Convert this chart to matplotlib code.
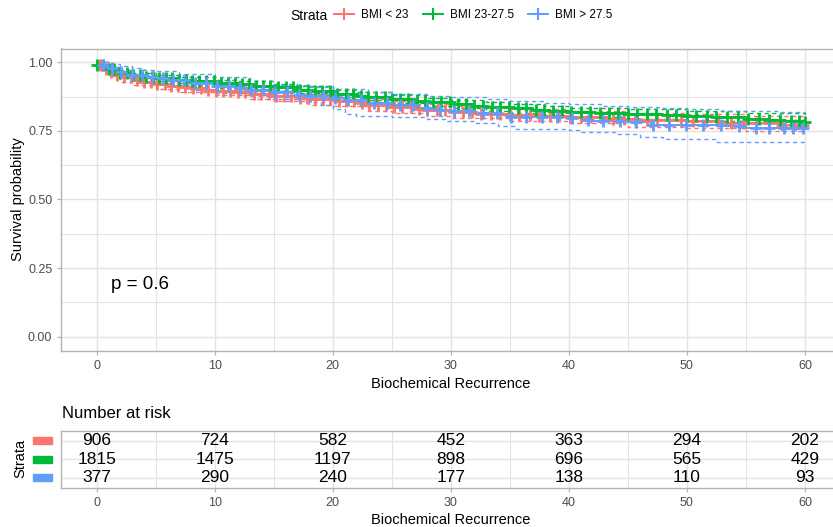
import numpy as np
import matplotlib
matplotlib.use("Agg")
import matplotlib.pyplot as plt
from matplotlib.lines import Line2D
from matplotlib.patches import Rectangle
from matplotlib.transforms import blended_transform_factory

plt.rcParams['font.family'] = ['Liberation Sans', 'DejaVu Sans']

# ---- data ----
strata = ["BMI < 23", "BMI 23-27.5", "BMI > 27.5"]
colors = ["#F8766D", "#00BA38", "#619CFF"]

red_t = [0, 0.5, 1, 1.5, 2, 3, 4, 5, 6, 7, 8, 9, 10, 12, 13, 15, 17, 18, 20, 22, 23, 25,
         27, 28, 30, 32, 35, 37, 40, 43, 46, 50, 53, 55, 58, 60]
red_s = [0.99, 0.975, 0.965, 0.955, 0.945, 0.935, 0.927, 0.92, 0.915, 0.91, 0.905, 0.90,
         0.897, 0.89, 0.885, 0.877, 0.87, 0.865, 0.858, 0.85, 0.845, 0.836, 0.83, 0.825,
         0.818, 0.813, 0.808, 0.805, 0.80, 0.795, 0.79, 0.786, 0.78, 0.777, 0.773, 0.771]
red_ci_t = [0, 1, 2, 3, 5, 7, 10, 13, 15, 18, 20, 23, 25, 28, 30, 35, 40, 45, 50, 55, 60]
red_hi = [1.0, 0.98, 0.962, 0.952, 0.938, 0.928, 0.915, 0.904, 0.896, 0.885, 0.877, 0.866,
          0.857, 0.847, 0.84, 0.83, 0.823, 0.815, 0.81, 0.803, 0.798]
red_lo = [0.98, 0.951, 0.928, 0.918, 0.902, 0.892, 0.879, 0.866, 0.858, 0.845, 0.839, 0.824,
          0.815, 0.803, 0.796, 0.786, 0.777, 0.765, 0.762, 0.751, 0.745]

green_t = [0, 1, 2, 3, 4, 5, 7, 8, 10, 12, 13, 15, 17, 18, 20, 22, 23, 25, 27, 28, 30, 32,
           33, 35, 37, 38, 40, 42, 45, 48, 50, 52, 55, 57, 58, 60]
green_s = [0.99, 0.975, 0.962, 0.952, 0.947, 0.944, 0.936, 0.932, 0.926, 0.92, 0.915, 0.908,
           0.90, 0.895, 0.885, 0.877, 0.872, 0.865, 0.86, 0.855, 0.847, 0.842, 0.838, 0.832,
           0.826, 0.822, 0.818, 0.815, 0.811, 0.807, 0.804, 0.80, 0.795, 0.79, 0.786, 0.783]
green_ci_t = [0, 1, 2, 3, 5, 7, 10, 12, 15, 17, 20, 22, 25, 28, 30, 33, 35, 38, 40, 45, 50,
              55, 60]
green_hi = [1.0, 0.983, 0.971, 0.962, 0.954, 0.946, 0.937, 0.931, 0.92, 0.912, 0.898, 0.89,
            0.879, 0.869, 0.862, 0.854, 0.847, 0.84, 0.835, 0.828, 0.822, 0.815, 0.809]
green_lo = [0.982, 0.967, 0.953, 0.942, 0.933, 0.925, 0.914, 0.908, 0.895, 0.887, 0.872,
            0.863, 0.851, 0.84, 0.832, 0.822, 0.816, 0.808, 0.802, 0.795, 0.787, 0.778, 0.764]

blue_t = [0, 0.5, 1, 2, 3, 4, 5, 6, 8, 10, 12, 13, 15, 17, 18, 20, 21, 23, 25, 27, 29, 30,
          32, 34, 35, 38, 40, 41, 42, 45, 47, 50, 53, 55, 57, 60]
blue_s = [0.995, 0.99, 0.98, 0.965, 0.955, 0.948, 0.942, 0.935, 0.925, 0.915, 0.907, 0.90,
          0.89, 0.882, 0.877, 0.868, 0.862, 0.852, 0.843, 0.835, 0.826, 0.822, 0.815, 0.808,
          0.802, 0.80, 0.798, 0.79, 0.786, 0.781, 0.772, 0.771, 0.766, 0.762, 0.76, 0.757]
blue_hi_t = [0, 1, 2, 3, 4, 5, 7, 10, 13, 15, 18, 20, 23, 25, 28, 30, 33, 35, 38, 40, 43, 45,
             48, 50, 53, 55, 58, 60]
blue_hi = [1.0, 0.995, 0.985, 0.978, 0.972, 0.968, 0.958, 0.945, 0.93, 0.918, 0.908, 0.902,
           0.893, 0.885, 0.878, 0.874, 0.865, 0.857, 0.85, 0.847, 0.84, 0.838, 0.832, 0.829,
           0.824, 0.822, 0.818, 0.817]
blue_lo_t = [0, 1, 2, 3, 4, 5, 8, 10, 13, 15, 18, 19, 20, 21, 22, 25, 28, 29.5, 32, 34, 35.5,
             38, 40, 41, 44, 46, 48, 52.5, 60]
blue_lo = [0.985, 0.963, 0.945, 0.932, 0.925, 0.918, 0.898, 0.888, 0.877, 0.865, 0.855,
           0.845, 0.83, 0.812, 0.803, 0.80, 0.795, 0.787, 0.78, 0.768, 0.755, 0.755, 0.752,
           0.745, 0.74, 0.726, 0.72, 0.708, 0.706]

red_cens = [0.3, 0.8, 1.2, 1.7, 2.3, 2.9, 3.4, 4.0, 4.6, 5.1, 5.8, 6.3, 6.9, 7.5, 8.2, 8.8,
            9.4, 10.1, 10.7, 11.3, 12.0, 12.6, 13.3, 13.9, 14.6, 15.2, 15.9, 16.5, 17.2, 17.8,
            18.5, 19.2, 19.8, 20.5, 21.1, 21.8, 22.5, 23.1, 23.8, 24.5, 25.2, 25.9, 26.6, 27.3,
            28.0, 28.8, 29.5, 30.3, 31.0, 31.8, 32.6, 33.4, 34.2, 35.0, 35.8, 36.7, 37.5, 38.4,
            39.2, 40.1, 41.0, 41.9, 42.8, 43.7, 44.7, 45.6, 46.6, 47.5, 48.5, 49.5, 50.5, 51.6,
            52.6, 53.7, 54.8, 55.9, 57.0, 58.1, 59.2, 59.8]
green_cens = [0.0, 0.5, 1.0, 1.5, 2.0, 2.6, 3.1, 3.7, 4.2, 4.8, 5.3, 5.9, 6.4, 7.0, 7.6, 8.1,
              8.7, 9.3, 9.9, 10.5, 11.1, 11.7, 12.3, 12.9, 13.5, 14.1, 14.7, 15.4, 16.0, 16.6,
              17.2, 17.9, 18.5, 19.1, 19.8, 20.4, 21.1, 21.7, 22.4, 23.0, 23.7, 24.4, 25.0,
              25.7, 26.4, 27.1, 27.8, 28.5, 29.2, 29.9, 30.6, 31.3, 32.0, 32.7, 33.5, 34.2,
              34.9, 35.7, 36.4, 37.2, 37.9, 38.7, 39.4, 40.2, 41.0, 41.8, 42.6, 43.4, 44.2,
              45.0, 45.8, 46.6, 47.4, 48.3, 49.1, 50.0, 50.8, 51.7, 52.5, 53.4, 54.3, 55.2,
              56.1, 57.0, 57.9, 58.8, 59.5, 60.0]
blue_cens = [0.5, 1.3, 2.1, 3.0, 3.8, 4.7, 5.6, 6.5, 7.4, 8.3, 9.3, 10.2, 11.2, 12.1, 13.1,
             14.1, 15.1, 16.1, 17.1, 18.1, 19.2, 20.2, 21.3, 22.4, 23.5, 24.6, 25.7, 26.8,
             28.0, 29.1, 30.3, 31.5, 32.7, 33.9, 35.1, 36.4, 37.7, 39.0, 40.3, 41.6, 42.9,
             44.3, 45.7, 47.1, 48.5, 49.9, 51.4, 52.9, 54.4, 55.9, 57.0, 58.2, 59.0, 59.8]

risk_times = [0, 10, 20, 30, 40, 50, 60]
risk_red = [906, 724, 582, 452, 363, 294, 202]
risk_green = [1815, 1475, 1197, 898, 696, 565, 429]
risk_blue = [377, 290, 240, 177, 138, 110, 93]

curves = [(red_t, red_s), (green_t, green_s), (blue_t, blue_s)]
cis = [(red_ci_t, red_hi, red_ci_t, red_lo),
       (green_ci_t, green_hi, green_ci_t, green_lo),
       (blue_hi_t, blue_hi, blue_lo_t, blue_lo)]
censors = [red_cens, green_cens, blue_cens]
risks = [risk_red, risk_green, risk_blue]


def step_value(t, s, x):
    t = np.asarray(t)
    s = np.asarray(s)
    idx = np.searchsorted(t, x, side="right") - 1
    return s[np.clip(idx, 0, len(s) - 1)]


def style_axes(ax):
    ax.set_facecolor("white")
    for sp in ax.spines.values():
        sp.set_color("#B3B3B3")
        sp.set_linewidth(1.0)
    ax.grid(which="major", color="#E3E3E3", linewidth=1.0)
    ax.grid(which="minor", color="#E3E3E3", linewidth=0.8)
    ax.set_axisbelow(True)
    ax.tick_params(which="major", colors="#B3B3B3", labelcolor="#4D4D4D",
                   length=3, width=0.9, labelsize=9)
    ax.tick_params(which="minor", length=0)


W, H = 833, 527
fig = plt.figure(figsize=(W / 100, H / 100), dpi=100)

# ---- survival curves ----
ax = fig.add_axes([61.3 / W, 1 - 350.5 / H, 779 / W, 302 / H])
style_axes(ax)

for (t, s), col in zip(curves, colors):
    ax.plot(t, s, drawstyle="steps-post", color=col, lw=1.4, zorder=3)
for (tu, hi, tl, lo), col in zip(cis, colors):
    ax.plot(tu, hi, drawstyle="steps-post", color=col, lw=1.0, ls=(0, (3, 2.5)), zorder=2)
    ax.plot(tl, lo, drawstyle="steps-post", color=col, lw=1.0, ls=(0, (3, 2.5)), zorder=2)
for (t, s), cens, col in zip(curves, censors, colors):
    ax.plot(cens, step_value(t, s, cens), ls="none", marker="+", ms=9, mew=2.0,
            color=col, zorder=4)

ax.set_xlim(-3, 63)
ax.set_ylim(-0.05, 1.05)
ax.set_xticks(risk_times)
ax.set_xticks([5, 15, 25, 35, 45, 55], minor=True)
ax.set_yticks([0, 0.25, 0.5, 0.75, 1.0])
ax.set_yticklabels(["0.00", "0.25", "0.50", "0.75", "1.00"])
ax.set_yticks([0.125, 0.375, 0.625, 0.875], minor=True)
ax.set_xlabel("Biochemical Recurrence", fontsize=10.5, labelpad=4)
ax.set_ylabel("Survival probability", fontsize=10.5)
ax.yaxis.set_label_coords(-0.047, 0.5)
ax.text(1.2, 0.19, "p = 0.6", fontsize=13.5, ha="left", va="center")

# ---- legend on top ----
fig.text(290 / W, 1 - 15.5 / H, "Strata", fontsize=10, ha="left", va="center")
handles = [Line2D([], [], color=c, lw=1.4, marker="+", ms=9, mew=1.5) for c in colors]
fig.legend(handles, strata, loc="center left", bbox_to_anchor=(334 / W, 1 - 15.5 / H),
           ncol=3, frameon=False, fontsize=8.5, handlelength=1.7, handletextpad=0.6,
           columnspacing=1.2, borderpad=0, borderaxespad=0)

# ---- risk table ----
tab = fig.add_axes([61.3 / W, 1 - 487.7 / H, 779 / W, 57 / H])
style_axes(tab)
rows = [2, 1, 0]
for r, counts in zip(rows, risks):
    for x, n in zip(risk_times, counts):
        tab.text(x, r, str(n), ha="center", va="center", fontsize=12.5)
tab.set_xlim(-3, 63)
tab.set_ylim(-0.55, 2.55)
tab.set_xticks(risk_times)
tab.set_xticks([5, 15, 25, 35, 45, 55], minor=True)
tab.set_yticks(rows)
tab.set_yticklabels([])
tab.tick_params(axis="y", length=0)
tab.set_xlabel("Biochemical Recurrence", fontsize=10.5, labelpad=3)

trans = blended_transform_factory(tab.transAxes, tab.transData)
for r, col in zip(rows, colors):
    tab.add_patch(Rectangle((-0.0363, r - 0.2), 0.0244, 0.4, transform=trans,
                            color=col, clip_on=False))

fig.text(62 / W, 1 - 413 / H, "Number at risk", fontsize=12, ha="left", va="center")
fig.text(20 / W, 1 - 458 / H, "Strata", fontsize=10.5, rotation=90, ha="center", va="center")

fig.savefig("out.png", dpi=100)
